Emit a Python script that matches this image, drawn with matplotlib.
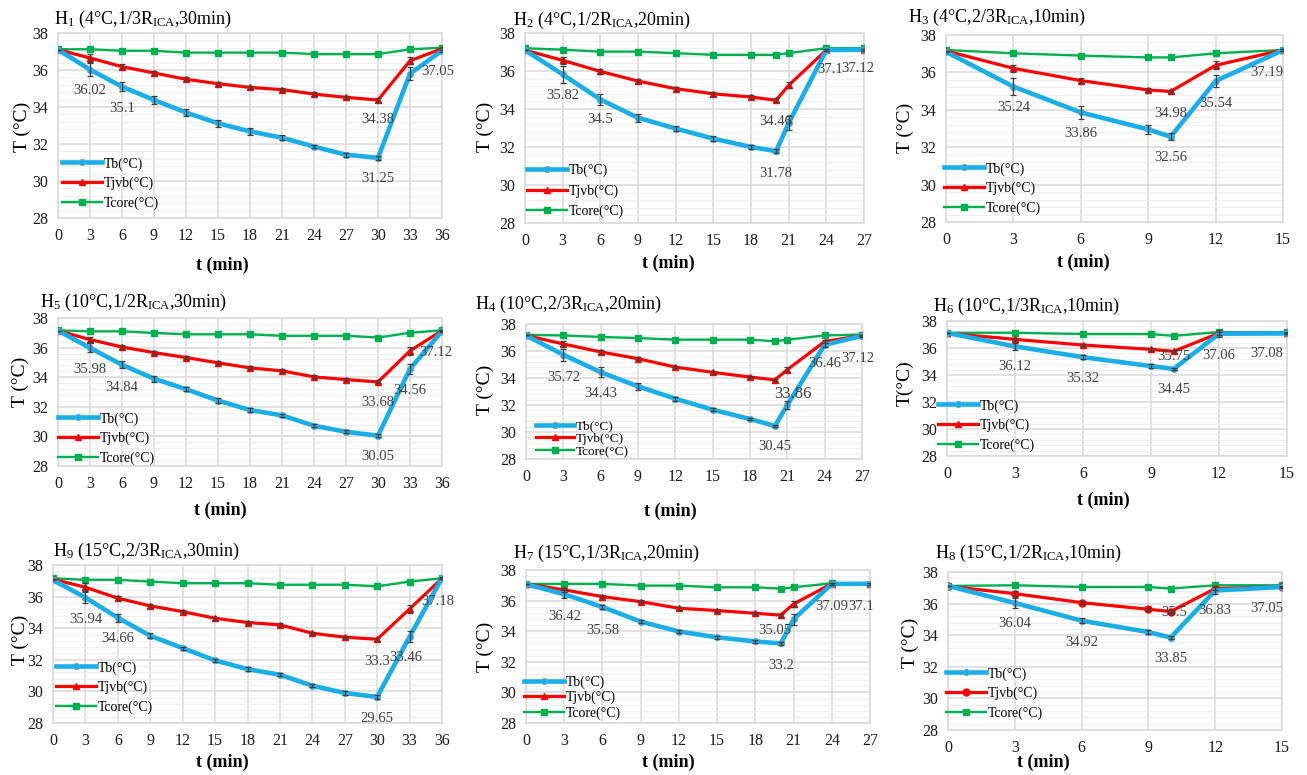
import matplotlib
matplotlib.use('Agg')
import matplotlib.pyplot as plt
import numpy as np

plt.rcParams['font.family'] = ['Liberation Serif', 'DejaVu Serif']
plt.rcParams['mathtext.fontset'] = 'custom'
plt.rcParams['mathtext.rm'] = 'Liberation Serif'
plt.rcParams['mathtext.it'] = 'Liberation Serif:italic'

# time axes (min)
t36 = [0, 3, 6, 9, 12, 15, 18, 21, 24, 27, 30, 33, 36]
t27 = [0, 3, 6, 9, 12, 15, 18, 20, 21, 24, 27]
t15 = [0, 3, 6, 9, 10, 12, 15]

# H1 (4C, 1/3 RICA, 30 min)
tb_h1 = [37.1, 36.02, 35.1, 34.38, 33.7, 33.12, 32.68, 32.34, 31.86, 31.42, 31.25, 35.8, 37.05]
tj_h1 = [37.1, 36.65, 36.18, 35.84, 35.5, 35.26, 35.06, 34.94, 34.7, 34.52, 34.38, 36.5, 37.15]
tc_h1 = [37.12, 37.12, 37.04, 37.04, 36.94, 36.94, 36.94, 36.94, 36.86, 36.86, 36.86, 37.12, 37.2]
eb_h1 = [0, 0.35, 0.25, 0.22, 0.2, 0.2, 0.2, 0.15, 0.1, 0.1, 0.12, 0.35, 0.05]
ej_h1 = [0, 0.22, 0.12, 0.1, 0.1, 0.1, 0.1, 0.1, 0.1, 0.08, 0.1, 0.2, 0.05]

# H2 (4C, 1/2 RICA, 20 min)
tb_h2 = [37.1, 35.82, 34.5, 33.54, 32.97, 32.44, 32.0, 31.78, 33.26, 37.1, 37.12]
tj_h2 = [37.1, 36.56, 35.98, 35.47, 35.07, 34.8, 34.63, 34.46, 35.25, 37.1, 37.12]
tc_h2 = [37.2, 37.12, 37.02, 37.02, 36.94, 36.85, 36.85, 36.85, 36.94, 37.2, 37.2]
eb_h2 = [0, 0.45, 0.3, 0.2, 0.15, 0.15, 0.1, 0.12, 0.35, 0.05, 0.05]
ej_h2 = [0, 0.2, 0.15, 0.12, 0.1, 0.1, 0.1, 0.1, 0.15, 0.05, 0.05]

# H3 (4C, 2/3 RICA, 10 min)
tb_h3 = [37.1, 35.24, 33.86, 32.95, 32.56, 35.54, 37.19]
tj_h3 = [37.15, 36.22, 35.56, 35.06, 34.98, 36.38, 37.2]
tc_h3 = [37.2, 37.02, 36.9, 36.8, 36.8, 37.02, 37.2]
eb_h3 = [0, 0.45, 0.35, 0.22, 0.2, 0.3, 0.05]
ej_h3 = [0, 0.2, 0.15, 0.12, 0.1, 0.22, 0.05]

# H5 (10C, 1/2 RICA, 30 min)
tb_h5 = [37.15, 35.98, 34.84, 33.9, 33.19, 32.42, 31.78, 31.42, 30.72, 30.31, 30.05, 34.56, 37.12]
tj_h5 = [37.15, 36.54, 36.04, 35.66, 35.33, 34.97, 34.63, 34.43, 34.02, 33.84, 33.68, 35.78, 37.15]
tc_h5 = [37.17, 37.1, 37.1, 36.99, 36.9, 36.9, 36.9, 36.8, 36.8, 36.8, 36.68, 37.0, 37.17]
eb_h5 = [0, 0.3, 0.25, 0.2, 0.15, 0.15, 0.12, 0.1, 0.1, 0.1, 0.1, 0.35, 0.05]
ej_h5 = [0, 0.15, 0.12, 0.1, 0.1, 0.1, 0.1, 0.1, 0.1, 0.1, 0.1, 0.25, 0.05]

# H4 (10C, 2/3 RICA, 20 min)
tb_h4 = [37.15, 35.72, 34.43, 33.38, 32.47, 31.65, 30.96, 30.45, 32.0, 36.46, 37.12]
tj_h4 = [37.15, 36.52, 35.93, 35.43, 34.81, 34.42, 34.07, 33.86, 34.62, 36.7, 37.15]
tc_h4 = [37.2, 37.15, 37.04, 36.96, 36.84, 36.84, 36.84, 36.72, 36.84, 37.15, 37.22]
eb_h4 = [0, 0.45, 0.35, 0.25, 0.15, 0.12, 0.1, 0.1, 0.3, 0.15, 0.05]
ej_h4 = [0, 0.25, 0.15, 0.12, 0.1, 0.1, 0.1, 0.1, 0.2, 0.1, 0.05]

# H6 (10C, 1/3 RICA, 10 min)
tb_h6 = [37.12, 36.12, 35.32, 34.66, 34.45, 37.06, 37.08]
tj_h6 = [37.1, 36.64, 36.22, 35.9, 35.75, 37.1, 37.1]
tc_h6 = [37.13, 37.13, 37.03, 37.03, 36.9, 37.18, 37.18]
eb_h6 = [0, 0.25, 0.15, 0.12, 0.1, 0.25, 0.05]
ej_h6 = [0, 0.12, 0.1, 0.1, 0.1, 0.1, 0.05]

# H9 (15C, 2/3 RICA, 30 min)
tb_h9 = [37.05, 35.94, 34.66, 33.52, 32.74, 31.96, 31.41, 31.05, 30.36, 29.9, 29.65, 33.46, 37.18]
tj_h9 = [37.1, 36.59, 35.9, 35.41, 35.05, 34.63, 34.36, 34.21, 33.68, 33.43, 33.3, 35.22, 37.15]
tc_h9 = [37.16, 37.06, 37.06, 36.95, 36.85, 36.85, 36.85, 36.75, 36.75, 36.75, 36.65, 36.95, 37.16]
eb_h9 = [0, 0.35, 0.25, 0.15, 0.1, 0.1, 0.15, 0.1, 0.1, 0.1, 0.1, 0.35, 0.05]
ej_h9 = [0, 0.25, 0.12, 0.1, 0.1, 0.1, 0.1, 0.1, 0.1, 0.1, 0.1, 0.25, 0.05]

# H7 (15C, 1/3 RICA, 20 min)
tb_h7 = [37.07, 36.42, 35.58, 34.63, 33.98, 33.6, 33.33, 33.2, 34.78, 37.09, 37.1]
tj_h7 = [37.1, 36.7, 36.26, 35.93, 35.5, 35.35, 35.17, 35.05, 35.78, 37.1, 37.1]
tc_h7 = [37.08, 37.09, 37.09, 36.98, 36.98, 36.87, 36.87, 36.78, 36.87, 37.13, 37.09]
eb_h7 = [0, 0.25, 0.15, 0.12, 0.1, 0.1, 0.1, 0.1, 0.35, 0.05, 0.05]
ej_h7 = [0, 0.15, 0.12, 0.1, 0.1, 0.1, 0.1, 0.1, 0.2, 0.05, 0.05]

# H8 (15C, 1/2 RICA, 10 min)
tb_h8 = [37.12, 36.04, 34.92, 34.2, 33.85, 36.83, 37.05]
tj_h8 = [37.1, 36.63, 36.06, 35.64, 35.5, 36.95, 37.08]
tc_h8 = [37.12, 37.16, 37.05, 37.05, 36.95, 37.16, 37.16]
eb_h8 = [0, 0.3, 0.15, 0.12, 0.1, 0.2, 0.05]
ej_h8 = [0, 0.15, 0.1, 0.1, 0.1, 0.1, 0.05]

titles = [r'H$_{\mathrm{1}}$ (4°C,1/3R$_{\mathrm{ICA}}$,30min)',
          r'H$_{\mathrm{2}}$ (4°C,1/2R$_{\mathrm{ICA}}$,20min)',
          r'H$_{\mathrm{3}}$ (4°C,2/3R$_{\mathrm{ICA}}$,10min)',
          r'H$_{\mathrm{5}}$ (10°C,1/2R$_{\mathrm{ICA}}$,30min)',
          r'H$_{\mathrm{4}}$ (10°C,2/3R$_{\mathrm{ICA}}$,20min)',
          r'H$_{\mathrm{6}}$ (10°C,1/3R$_{\mathrm{ICA}}$,10min)',
          r'H$_{\mathrm{9}}$ (15°C,2/3R$_{\mathrm{ICA}}$,30min)',
          r'H$_{\mathrm{7}}$ (15°C,1/3R$_{\mathrm{ICA}}$,20min)',
          r'H$_{\mathrm{8}}$ (15°C,1/2R$_{\mathrm{ICA}}$,10min)']
ylabels = ['T (°C)'] * 5 + ['T(°C)'] + ['T (°C)'] * 3
legend_names = ['Tb(°C)', 'Tjvb(°C)', 'Tcore(°C)']

# which points carry a value label: (series, index, dx px, dy px)
labels_h1 = [('b', 1, 0, -21), ('b', 2, 0, -22), ('b', 10, 0, -21), ('j', 10, 0, -20), ('b', 12, -4, -21)]
labels_h2 = [('b', 1, 0, -21), ('b', 2, 0, -20), ('b', 7, 0, -22), ('j', 7, 0, -21), ('b', 9, 4, -19), ('b', 10, -6, -19)]
labels_h3 = [('b', 1, 0, -21), ('b', 2, 0, -21), ('b', 4, 0, -21), ('j', 4, 0, -22), ('b', 5, 0, -22), ('b', 6, -16, -22)]
labels_h5 = [('b', 1, 0, -22), ('b', 2, 0, -23), ('b', 10, 0, -21), ('j', 10, 0, -21), ('b', 11, 0, -22), ('b', 12, -6, -21)]
labels_h4 = [('b', 1, 0, -23), ('b', 2, 0, -21), ('b', 7, 0, -21), ('j', 7, 18, -14), ('b', 9, 0, -19), ('b', 10, -4, -23)]
labels_h6 = [('b', 1, 0, -20), ('b', 2, 0, -21), ('b', 4, 0, -21), ('j', 4, 0, -5), ('b', 5, 0, -22), ('b', 6, -20, -20)]
labels_h9 = [('b', 1, 0, -22), ('b', 2, 0, -21), ('b', 10, 0, -22), ('j', 10, 0, -22), ('b', 11, -4, -21), ('b', 12, -4, -24)]
labels_h7 = [('b', 1, 0, -22), ('b', 2, 0, -23), ('b', 7, 0, -22), ('j', 7, -6, -15), ('b', 9, 0, -23), ('b', 10, -9, -23)]
labels_h8 = [('b', 1, 0, -21), ('b', 2, 0, -22), ('b', 4, 0, -21), ('j', 4, 4, -1), ('b', 5, 0, -20), ('b', 6, -15, -21)]

W, H = 1307, 775
# layout in pixels: axes box (l, t, r, b), title (x, y), xlabel (x, y), ylabel (x, y),
# legend (x, y of lowest row), legend font, legend spacing
layout = [
    ((58, 33, 442, 218), (54, 19), (222, 265), (22, 127), (62, 203), 10, 0.45),
    ((525, 33, 864, 223), (513, 20), (668, 263), (485, 127), (527, 211), 10, 0.5),
    ((946, 35, 1283, 222), (908, 17), (1083, 262), (905, 128), (944, 208), 10, 0.45),
    ((58, 318, 442, 466), (40, 302), (220, 510), (20, 382), (58, 458), 10, 0.45),
    ((526, 324, 862, 459), (475, 304), (670, 511), (485, 390), (536, 451), 9.5, 0.05),
    ((947, 321, 1287, 456), (933, 306), (1103, 500), (905, 383), (938, 445), 10, 0.45),
    ((53, 565, 442, 723), (53, 551), (222, 762), (20, 640), (56, 707), 10, 0.45),
    ((526, 570, 870, 723), (513, 553), (668, 762), (485, 647), (524, 713), 10, 0.15),
    ((948, 572, 1282, 730), (935, 553), (1043, 762), (910, 643), (946, 713), 10, 0.45),
]

panels = [
    (t36, tb_h1, tj_h1, tc_h1, eb_h1, ej_h1, labels_h1, '^'),
    (t27, tb_h2, tj_h2, tc_h2, eb_h2, ej_h2, labels_h2, '^'),
    (t15, tb_h3, tj_h3, tc_h3, eb_h3, ej_h3, labels_h3, '^'),
    (t36, tb_h5, tj_h5, tc_h5, eb_h5, ej_h5, labels_h5, '^'),
    (t27, tb_h4, tj_h4, tc_h4, eb_h4, ej_h4, labels_h4, '^'),
    (t15, tb_h6, tj_h6, tc_h6, eb_h6, ej_h6, labels_h6, '^'),
    (t36, tb_h9, tj_h9, tc_h9, eb_h9, ej_h9, labels_h9, '^'),
    (t27, tb_h7, tj_h7, tc_h7, eb_h7, ej_h7, labels_h7, '^'),
    (t15, tb_h8, tj_h8, tc_h8, eb_h8, ej_h8, labels_h8, 'o'),
]

c_b = '#1aaee8'
c_j = '#ff0000'
c_c = '#00b050'
grid_c = '#d9d9d9'

fig = plt.figure(figsize=(W / 100, H / 100), dpi=100)

for k, (t, tb, tj, tc, eb, ej, labs, jm) in enumerate(panels):
    box, tpos, xpos, ypos, lpos, lfs, lsp = layout[k]
    l, top, r, b = box
    ax = fig.add_axes([l / W, 1 - b / H, (r - l) / W, (b - top) / H])

    lb, = ax.plot(t, tb, color=c_b, lw=3.3, marker='o', ms=4.5, mfc=c_b,
                  mec='#5fa8d3', mew=0.6, zorder=5)
    lj, = ax.plot(t, tj, color=c_j, lw=2.3, marker=jm, ms=5, zorder=4)
    lc, = ax.plot(t, tc, color=c_c, lw=1.7, marker='s', ms=5, zorder=3)
    ax.errorbar(t, tb, yerr=eb, fmt='none', ecolor='#404040', elinewidth=0.9,
                capsize=2.5, capthick=0.9, zorder=6)
    ax.errorbar(t, tj, yerr=ej, fmt='none', ecolor='#404040', elinewidth=0.9,
                capsize=2.5, capthick=0.9, zorder=6)

    series = {'b': tb, 'j': tj}
    for s, i, dx, dy in labs:
        v = series[s][i]
        fs = 12 if (k == 4 and s == 'j') else 10.5
        ax.annotate(f'{v:g}', (t[i], v), xytext=(dx, dy), textcoords='offset pixels',
                    ha='center', va='center', fontsize=fs, color='#404040', zorder=7)

    ax.set_xlim(0, t[-1])
    ax.set_ylim(28, 38)
    ax.set_xticks(np.arange(0, t[-1] + 1, 3))
    ax.set_yticks(np.arange(28, 39, 2))
    ax.set_yticks(np.arange(28, 38, 0.4), minor=True)
    ax.grid(True, which='major', color=grid_c, lw=1.1, zorder=0)
    ax.grid(True, which='minor', axis='y', color='#ececec', lw=0.6, zorder=0)
    ax.set_axisbelow(True)
    for sp in ax.spines.values():
        sp.set_color(grid_c)
        sp.set_linewidth(1.1)
    ax.tick_params(which='both', length=0, labelsize=11.5, colors='#1a1a1a', pad=7)

    leg = ax.legend([lb, lj, lc], legend_names, loc='lower left', frameon=False,
                    fontsize=lfs, handlelength=2.9, handletextpad=0.1,
                    labelspacing=lsp, borderpad=0, borderaxespad=0, numpoints=1,
                    bbox_to_anchor=(lpos[0] / W, 1 - (lpos[1] + 7) / H),
                    bbox_transform=fig.transFigure)
    leg.set_zorder(8)

    fig.text(tpos[0] / W, 1 - tpos[1] / H, titles[k], ha='left', va='center', fontsize=13)
    fig.text(xpos[0] / W, 1 - xpos[1] / H, 't (min)', ha='center', va='center',
             fontsize=13, fontweight='bold')
    fig.text(ypos[0] / W, 1 - ypos[1] / H, ylabels[k], ha='center', va='center',
             fontsize=14, rotation=90)

fig.savefig('out.png', dpi=100)
